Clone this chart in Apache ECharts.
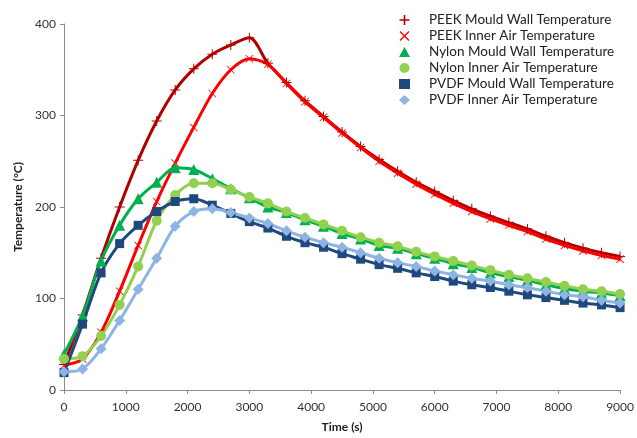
<!DOCTYPE html>
<html>
<head>
<meta charset="utf-8">
<script src="https://cdn.jsdelivr.net/npm/echarts@6/dist/echarts.min.js"></script>
<style>
html,body{margin:0;padding:0;background:#fff;}
#chart{width:637px;height:438px;}
</style>
</head>
<body>
<div id="chart"></div>
<script>
const times = [0,300,600,900,1200,1500,1800,2100,2400,2700,3000,3300,3600,3900,4200,4500,4800,5100,5400,5700,6000,6300,6600,6900,7200,7500,7800,8100,8400,8700,9000];
const peekWall = [28,82,144,200,251,294,328,351,367,377,385,357,336,316,299,282,266,252,239,227,217,207,198,190,183,176,168,161,155,150,146];
const peekAir  = [27,34,63,108,158,206,248,287,324,350,362,356,335,315,298,281,265,250,237,225,214,204,195,187,180,173,165,158,152,147,143];
const nylonWall= [39,81,141,180,209,227,243,241,231,220,210,200,194,186,179,171,165,158,155,149,144,138,134,128,124,120,115,111,108,106,103];
const nylonAir = [34,37,59,93,135,185,213,226,226,219,211,204,195,188,181,174,167,161,157,151,146,141,136,131,126,122,118,114,110,108,105];
const pvdfWall = [19,72,128,160,180,195,206,209,202,193,184,177,168,161,156,149,143,137,133,128,124,119,115,112,108,104,101,98,95,93,90];
const pvdfAir  = [20,23,45,76,110,144,179,195,198,194,188,182,174,167,161,156,150,144,139,135,130,126,122,119,115,112,108,104,102,98,95];
const seriesNames = ['PEEK Mould Wall Temperature','PEEK Inner Air Temperature','Nylon Mould Wall Temperature','Nylon Inner Air Temperature','PVDF Mould Wall Temperature','PVDF Inner Air Temperature'];
const xTicks = {min:0,max:9000,interval:1000};
const yTicks = {min:0,max:400,interval:100};

const PLUS = 'path://M4.5,0H5.5V4.5H10V5.5H5.5V10H4.5V5.5H0V4.5H4.5Z';
const PLUS_L = 'path://M4.2,0H5.8V4.2H10V5.8H5.8V10H4.2V5.8H0V4.2H4.2Z';
const CROSS = 'path://M0.7,0L5,4.3L9.3,0L10,0.7L5.7,5L10,9.3L9.3,10L5,5.7L0.7,10L0,9.3L4.3,5L0,0.7Z';
const CROSS_L = 'path://M1,0L5,4L9,0L10,1L6,5L10,9L9,10L5,6L1,10L0,9L4,5L0,1Z';

const cfg = [
  {data: peekWall, color:'#B00000', symbol: PLUS, size: 10, legendIcon: PLUS_L},
  {data: peekAir, color:'#FF0000', symbol: CROSS, size: 8, legendIcon: CROSS_L},
  {data: nylonWall, color:'#00B050', symbol:'triangle', size: 11, legendIcon:'triangle'},
  {data: nylonAir, color:'#92D050', symbol:'circle', size: 10, legendIcon:'circle'},
  {data: pvdfWall, color:'#1F497D', symbol:'rect', size: 9, legendIcon:'rect'},
  {data: pvdfAir, color:'#8EB4E3', symbol:'diamond', size: 11, legendIcon:'diamond'}
];

const chart = echarts.init(document.getElementById('chart'), null, {renderer:'canvas'});
const font = 'Lato, "Liberation Sans", sans-serif';
chart.setOption({
  animation:false,
  backgroundColor:'#fff',
  textStyle:{fontFamily:font},
  grid:{left:64,right:13,top:24,bottom:45},
  legend:{
    orient:'vertical', left:394, top:7,
    itemWidth:11, itemHeight:10, itemGap:0,
    textStyle:{fontFamily:font,fontSize:13.5,color:'#222',lineHeight:16,padding:[0,0,0,14]},
    data: seriesNames.map((n,i)=>({name:n, icon:cfg[i].legendIcon}))
  },
  xAxis:{
    type:'value', min:xTicks.min, max:xTicks.max, interval:xTicks.interval,
    name:'Time (s)', nameLocation:'middle', nameGap:31,
    nameTextStyle:{fontFamily:font,fontWeight:'bold',fontSize:12,color:'#222'},
    axisLine:{show:true,lineStyle:{color:'#8c8c8c',width:1}},
    axisTick:{show:true,length:4,lineStyle:{color:'#8c8c8c'}},
    axisLabel:{fontFamily:font,fontSize:12,color:'#333',margin:11,formatter:v=>String(v)},
    splitLine:{show:false}
  },
  yAxis:{
    type:'value', min:yTicks.min, max:yTicks.max, interval:yTicks.interval,
    name:'Temperature (°C)', nameLocation:'middle', nameGap:40, nameRotate:90,
    nameTextStyle:{fontFamily:font,fontWeight:'bold',fontSize:12,color:'#222'},
    axisLine:{show:true,lineStyle:{color:'#8c8c8c',width:1}},
    axisTick:{show:true,length:4,lineStyle:{color:'#8c8c8c'}},
    axisLabel:{fontFamily:font,fontSize:12,color:'#333',margin:8,formatter:v=>String(v)},
    splitLine:{show:false}
  },
  series: cfg.map((c,i)=>({
    name: seriesNames[i], type:'line',
    data: times.map((t,j)=>[t,c.data[j]]),
    smooth:0.3, symbol:c.symbol, symbolSize:c.size, showSymbol:true,
    color:c.color,
    lineStyle:{color:c.color,width:3},
    itemStyle:{color:c.color,borderWidth:0}
  }))
});
</script>
</body>
</html>
